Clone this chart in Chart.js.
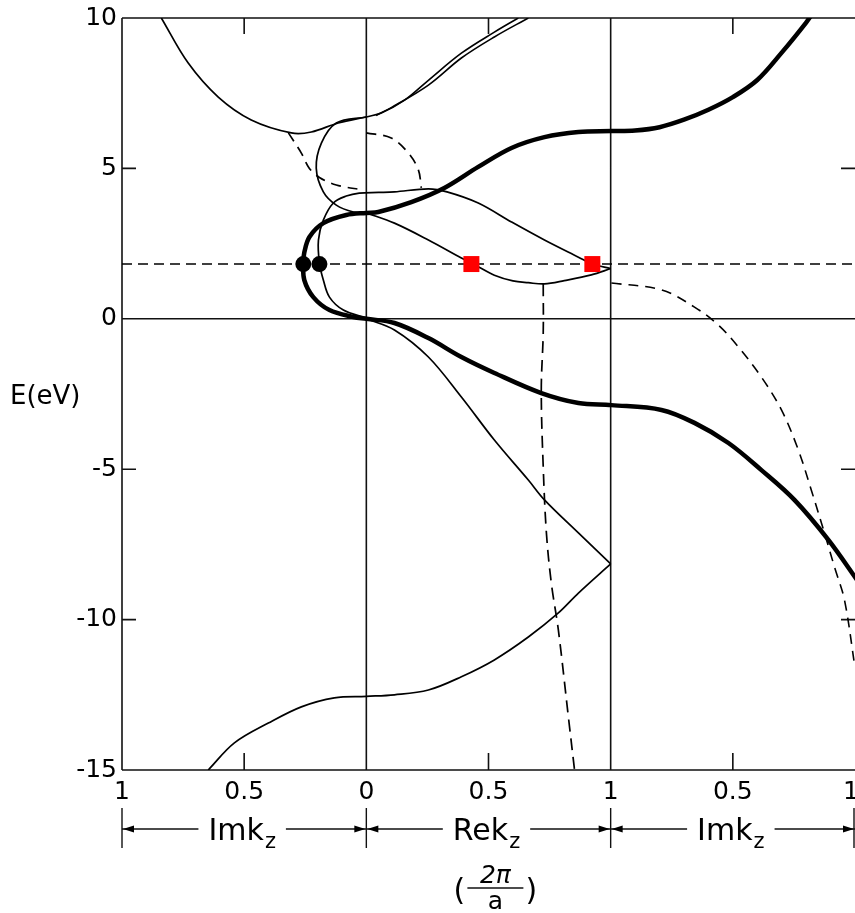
<!DOCTYPE html>
<html>
<head>
<meta charset="utf-8">
<script src="https://cdn.jsdelivr.net/npm/chart.js@4.4.0/dist/chart.umd.min.js"></script>
<style>
  body { margin: 0; background: #fff; overflow: hidden; }
  #wrap { width: 855px; height: 913px; }
</style>
</head>
<body>
<div id="wrap"><canvas id="chart"></canvas></div>
<script>
// k position: left panel = -Im kz, middle = Re kz, right = 1 + Im kz  (2pi/a units)
// energies in eV
var thickBand = [[1.83,10.2],[1.8,9.85],[1.7,8.85],[1.6,7.94],[1.5,7.37],[1.4,6.95],[1.3,6.62],[1.2,6.37],[1.1,6.26],[1.003,6.24],
  [0.868,6.21],[0.729,6.04],[0.594,5.68],[0.458,5.05],[0.319,4.35],[0.184,3.88],[0.049,3.55],[0,3.52],
  [-0.082,3.45],[-0.176,3.18],[-0.233,2.72],[-0.254,2.2],[-0.258,1.85],[-0.254,1.29],[-0.217,0.72],[-0.151,0.29],[-0.053,0.06],[0,0],
  [0.115,-0.14],[0.254,-0.64],[0.389,-1.27],[0.524,-1.8],[0.716,-2.47],[0.868,-2.8],[1.003,-2.87],
  [1.208,-3.03],[1.343,-3.46],[1.482,-4.13],[1.617,-5.03],[1.752,-6.02],[1.891,-7.35],[2.01,-8.7]];
var innerLoop = [[0,0.03],[-0.094,0.29],[-0.151,0.72],[-0.176,1.29],[-0.192,1.85],[-0.196,2.62],[-0.176,3.28],[-0.135,3.85],
  [-0.082,4.08],[-0.029,4.18],[0.05,4.2],[0.115,4.22],[0.254,4.32],[0.33,4.22],[0.458,3.85],[0.594,3.22],[0.729,2.62],
  [0.868,2.05],[0.925,1.82],[1.0,1.67]];
var lowerArc = [[0,3.52],[0.115,3.18],[0.254,2.62],[0.389,2.02],[0.458,1.73],[0.524,1.45],[0.6,1.26],[0.663,1.2],
  [0.729,1.16],[0.81,1.27],[0.921,1.46],[1.0,1.67]];
var circleBand = [[0,6.71],[-0.123,6.51],[-0.184,5.84],[-0.205,5.01],[-0.176,4.22],[-0.123,3.78],[-0.053,3.55],[0,3.52]];
var topBand = [[-0.839,10],[-0.729,8.5],[-0.606,7.37],[-0.471,6.61],[-0.307,6.18],[-0.225,6.21],[-0.115,6.51],[0,6.71]];
var upperPairA = [[0,6.71],[0.061,6.84],[0.155,7.26],[0.254,7.93],[0.389,8.83],[0.524,9.53],[0.622,10]];
var upperPairB = [[0.04,6.76],[0.102,7.02],[0.254,7.77],[0.389,8.67],[0.524,9.37],[0.663,10]];
var lowerBandA = [[0,0],[0.115,-0.37],[0.254,-1.27],[0.389,-2.6],[0.524,-4.03],[0.663,-5.36],[0.729,-6.02],[0.868,-7.12],[1.0,-8.15]];
var lowerBandB = [[-0.647,-15],[-0.54,-14.1],[-0.401,-13.44],[-0.266,-12.9],[-0.131,-12.6],[0,-12.55],[0.115,-12.5],
  [0.254,-12.34],[0.389,-11.9],[0.524,-11.34],[0.663,-10.58],[0.786,-9.78],[0.868,-9.12],[1.0,-8.15]];
var dashLeft = [[-0.319,6.18],[-0.266,5.51],[-0.233,5.0],[-0.192,4.7],[-0.123,4.45],[-0.012,4.28]];
var dashArc = [[0,6.18],[0.102,6.01],[0.172,5.51],[0.213,4.95],[0.225,4.35]];
var dashDown = [[0.724,1.16],[0.724,-0.47],[0.716,-2.37],[0.724,-4.93],[0.737,-7.12],[0.757,-8.78],[0.786,-10.35],
  [0.827,-13.24],[0.855,-15.2]];
var dashRight = [[1.003,1.19],[1.208,0.96],[1.343,0.39],[1.441,-0.21],[1.523,-0.94],[1.617,-1.94],[1.699,-3.03],
  [1.768,-4.36],[1.821,-5.69],[1.875,-7.12],[1.916,-8.25],[1.957,-9.35],[2.0,-11.6]];
var fermiE = 1.82;
var blackDots = [[-0.258,1.82],[-0.192,1.82]];
var redSquares = [[0.43,1.82],[0.925,1.82]];
var eTicks = [10, 5, 0, -5, -10, -15];
var kTicks = [-1, -0.5, 0, 0.5, 1, 1.5, 2];
var kTickLabels = ['1', '0.5', '0', '0.5', '1', '0.5', '1'];
var panels = [[-1, 0, 'Im'], [0, 1, 'Re'], [1, 2, 'Im']];

function pts(a) { return a.map(p => ({x: p[0], y: p[1]})); }
function curve(a, w, dash) {
  return { data: pts(a), showLine: true, borderColor: '#000', borderWidth: w, borderDash: dash || [],
    pointRadius: 0, tension: 0.35, fill: false };
}

var frame = {
  id: 'frame',
  beforeDatasetsDraw(chart) {
    var ctx = chart.ctx, a = chart.chartArea, xs = chart.scales.x, ys = chart.scales.y;
    ctx.save();
    ctx.strokeStyle = '#111';
    ctx.lineWidth = 1.6;
    ctx.beginPath();
    ctx.moveTo(a.left, a.top); ctx.lineTo(a.left, a.bottom);
    ctx.moveTo(a.left, a.top); ctx.lineTo(a.right, a.top);
    ctx.moveTo(a.left, a.bottom); ctx.lineTo(a.right, a.bottom);
    ctx.moveTo(a.left, ys.getPixelForValue(0)); ctx.lineTo(a.right, ys.getPixelForValue(0));
    [0, 1].forEach(k => {
      var x = xs.getPixelForValue(k);
      ctx.moveTo(x, a.top); ctx.lineTo(x, a.bottom);
    });
    eTicks.forEach(e => {
      var y = ys.getPixelForValue(e);
      ctx.moveTo(a.left, y); ctx.lineTo(a.left + 14, y);
      ctx.moveTo(a.right - 14, y); ctx.lineTo(a.right, y);
    });
    [-0.5, 0.5, 1.5].forEach(k => {
      var x = xs.getPixelForValue(k);
      ctx.moveTo(x, a.top); ctx.lineTo(x, a.top + 16);
      ctx.moveTo(x, a.bottom); ctx.lineTo(x, a.bottom - 17);
    });
    ctx.stroke();
    ctx.restore();
  },
  afterDraw(chart) {
    var ctx = chart.ctx, a = chart.chartArea, xs = chart.scales.x, ys = chart.scales.y;
    ctx.save();
    ctx.fillStyle = '#000';
    ctx.strokeStyle = '#111';

    // k tick labels
    ctx.font = '25px "DejaVu Sans"';
    ctx.textAlign = 'center';
    ctx.textBaseline = 'middle';
    kTicks.forEach((k, i) => {
      var x = xs.getPixelForValue(k);
      var w = ctx.measureText(kTickLabels[i]).width;
      if (x + w / 2 > chart.width) x = chart.width - w / 2 + 4;
      ctx.fillText(kTickLabels[i], x, a.bottom + 22);
    });

    ctx.font = '26px "DejaVu Sans"';
    ctx.textAlign = 'left';
    ctx.fillText('E(eV)', 10, ys.getPixelForValue(-2.6));

    // k range brackets
    var yb = 829;
    panels.forEach(p => {
      var x0 = xs.getPixelForValue(p[0]), x1 = xs.getPixelForValue(p[1]);
      var cx = (x0 + x1) / 2 - 2;
      ctx.font = '30px "DejaVu Sans"';
      var w1 = ctx.measureText(p[2] + 'k').width;
      ctx.font = '21px "DejaVu Sans"';
      var w2 = ctx.measureText('z').width;
      var tw = w1 + w2 + 1, tx = cx - tw / 2;
      ctx.font = '30px "DejaVu Sans"';
      ctx.textBaseline = 'alphabetic';
      ctx.fillText(p[2] + 'k', tx, yb + 11);
      ctx.font = '21px "DejaVu Sans"';
      ctx.fillText('z', tx + w1 + 1, yb + 19);
      ctx.lineWidth = 1.4;
      ctx.beginPath();
      ctx.moveTo(x0, yb); ctx.lineTo(tx - 10, yb);
      ctx.moveTo(tx + tw + 10, yb); ctx.lineTo(x1, yb);
      ctx.stroke();
      ctx.beginPath();
      ctx.moveTo(x0 + 1, yb); ctx.lineTo(x0 + 12, yb - 3.5); ctx.lineTo(x0 + 12, yb + 3.5); ctx.closePath();
      ctx.moveTo(x1 - 1, yb); ctx.lineTo(x1 - 12, yb - 3.5); ctx.lineTo(x1 - 12, yb + 3.5); ctx.closePath();
      ctx.fill();
    });
    ctx.lineWidth = 1.4;
    ctx.beginPath();
    [-1, 0, 1, 2].forEach(k => {
      var x = Math.min(xs.getPixelForValue(k), chart.width - 1);
      ctx.moveTo(x, yb - 21); ctx.lineTo(x, yb + 19);
    });
    ctx.stroke();

    // units (2pi/a)
    var fx = xs.getPixelForValue(0.52);
    ctx.textAlign = 'center';
    ctx.textBaseline = 'alphabetic';
    ctx.font = '30px "DejaVu Sans"';
    ctx.fillText('(', fx - 34, 900);
    ctx.fillText(')', fx + 38, 900);
    ctx.font = 'italic 25px "DejaVu Sans"';
    ctx.fillText('2\u03c0', fx + 2, 883);
    ctx.font = '25px "DejaVu Sans"';
    ctx.fillText('a', fx + 2, 909);
    ctx.lineWidth = 1.6;
    ctx.beginPath();
    ctx.moveTo(fx - 26, 888); ctx.lineTo(fx + 30, 888);
    ctx.stroke();
    ctx.restore();
  }
};

var datasets = [
  { data: pts(blackDots), showLine: false, pointStyle: 'circle', pointRadius: 8, pointBackgroundColor: '#000', pointBorderWidth: 0 },
  { data: pts(redSquares), showLine: false, pointStyle: 'rect', pointRadius: 11.3, pointBackgroundColor: '#ff0000', pointBorderWidth: 0 },
  curve([[-1, fermiE], [2, fermiE]], 1.6, [10, 6]),
  curve(thickBand, 4.5),
  curve(innerLoop, 1.7),
  curve(lowerArc, 1.7),
  curve(circleBand, 1.7),
  curve(topBand, 1.7),
  curve(upperPairA, 1.6),
  curve(upperPairB, 1.6),
  curve(lowerBandA, 1.7),
  curve(lowerBandB, 1.7),
  curve(dashLeft, 1.7, [10, 7]),
  curve(dashArc, 1.7, [10, 7]),
  curve(dashDown, 1.7, [12, 7]),
  curve(dashRight, 1.6, [10, 7])
];
datasets[2].tension = 0;

new Chart('chart', {
  type: 'scatter',
  data: { datasets: datasets },
  options: {
    responsive: true,
    maintainAspectRatio: false,
    animation: false,
    layout: { autoPadding: false, padding: { top: 18, right: 0, left: 0, bottom: 0 } },
    plugins: { legend: { display: false }, tooltip: { enabled: false } },
    scales: {
      x: {
        type: 'linear', min: -1, max: 2,
        grid: { display: false, drawTicks: false },
        border: { display: false },
        ticks: { display: false },
        afterFit: s => { s.height = 143; s.paddingLeft = 0; s.paddingRight = 0; }
      },
      y: {
        min: -15, max: 10,
        grid: { display: false, drawTicks: false },
        border: { display: false },
        afterBuildTicks: s => { s.ticks = eTicks.map(v => ({ value: v })); },
        ticks: { padding: 5, color: '#000', font: { family: 'DejaVu Sans', size: 25 } },
        afterFit: s => { s.width = 122; s.paddingTop = 0; s.paddingBottom = 0; }
      }
    }
  },
  plugins: [frame]
});
</script>
</body>
</html>
